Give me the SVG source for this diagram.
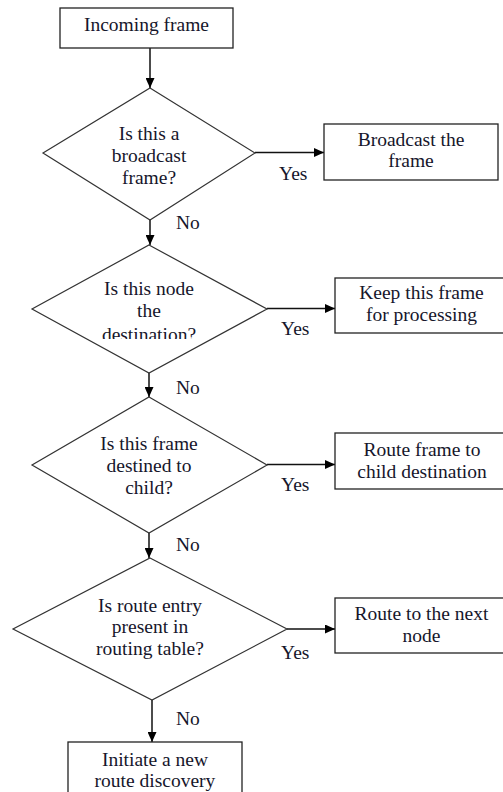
<svg xmlns="http://www.w3.org/2000/svg" width="503" height="792" viewBox="0 0 503 792">
<style>
.box{fill:#fff;stroke:#222;stroke-width:1.3}
.dia{fill:#fff;stroke:#333;stroke-width:1.2}
.t{font-family:'Liberation Serif','DejaVu Serif','Noto Serif',serif;font-size:19.5px;fill:#16162b;text-anchor:middle}
.l{font-family:'Liberation Serif','DejaVu Serif','Noto Serif',serif;font-size:19.5px;fill:#16162b}
.c{fill:none;stroke:#111;stroke-width:1.5}
</style>
<defs>
<marker id="ah" markerUnits="userSpaceOnUse" markerWidth="10" markerHeight="9" viewBox="0 0 10 9" refX="10" refY="4.5" orient="auto">
<path d="M0,0 L10,4.5 L0,9 Z" fill="#000"/>
</marker>
<clipPath id="clipDest"><rect x="0" y="0" width="503" height="339"/></clipPath>
</defs>
<rect width="503" height="792" fill="#fff"/>
<g id="connectors">
<line class="c" x1="150" y1="48" x2="150" y2="88" marker-end="url(#ah)"/>
<line class="c" x1="150" y1="220" x2="150" y2="245" marker-end="url(#ah)"/>
<line class="c" x1="149" y1="373" x2="149" y2="397" marker-end="url(#ah)"/>
<line class="c" x1="149" y1="533" x2="149" y2="558" marker-end="url(#ah)"/>
<line class="c" x1="152" y1="700" x2="152" y2="742" marker-end="url(#ah)"/>
<line class="c" x1="255" y1="152.5" x2="324" y2="152.5" marker-end="url(#ah)"/>
<line class="c" x1="267" y1="308.5" x2="335" y2="308.5" marker-end="url(#ah)"/>
<line class="c" x1="267" y1="464.5" x2="335" y2="464.5" marker-end="url(#ah)"/>
<line class="c" x1="287" y1="629" x2="335" y2="629" marker-end="url(#ah)"/>
<text class="l" x="176" y="229">No</text>
<text class="l" x="176" y="394">No</text>
<text class="l" x="176" y="551">No</text>
<text class="l" x="176" y="725">No</text>
<text class="l" x="279" y="180">Yes</text>
<text class="l" x="281" y="335">Yes</text>
<text class="l" x="281" y="491">Yes</text>
<text class="l" x="281" y="659">Yes</text>
</g>
<g id="incoming">
<rect class="box" x="60" y="8" width="173" height="40"/>
<text class="t" x="146.5" y="30.5">Incoming frame</text>
</g>
<g id="q-broadcast">
<polygon class="dia" points="150,88 255,153 150,220 43,153"/>
<text class="t" x="149" y="140">Is this a</text>
<text class="t" x="149" y="162">broadcast</text>
<text class="t" x="149" y="184">frame?</text>
</g>
<g id="broadcast">
<rect class="box" x="324" y="124" width="174" height="56"/>
<text class="t" x="411" y="146">Broadcast the</text>
<text class="t" x="411" y="167">frame</text>
</g>
<g id="q-dest">
<polygon class="dia" points="149,245 267,309 149,373 32,309"/>
<text class="t" x="149" y="295">Is this node</text>
<text class="t" x="149" y="317">the</text>
<text class="t" x="149" y="341" clip-path="url(#clipDest)">destination?</text>
</g>
<g id="keep">
<rect class="box" x="335" y="278" width="175" height="55"/>
<text class="t" x="421.5" y="299">Keep this frame</text>
<text class="t" x="421.5" y="321">for processing</text>
</g>
<g id="q-child">
<polygon class="dia" points="149,397 267,465 149,533 32,465"/>
<text class="t" x="149" y="450">Is this frame</text>
<text class="t" x="149" y="472">destined to</text>
<text class="t" x="149" y="494">child?</text>
</g>
<g id="route-child">
<rect class="box" x="335" y="433" width="175" height="56"/>
<text class="t" x="422" y="456">Route frame to</text>
<text class="t" x="422" y="478">child destination</text>
</g>
<g id="q-route">
<polygon class="dia" points="150,558 287,629 152,700 13,629"/>
<text class="t" x="150" y="612">Is route entry</text>
<text class="t" x="150" y="633">present in</text>
<text class="t" x="150" y="655">routing table?</text>
</g>
<g id="route-next">
<rect class="box" x="335" y="598" width="175" height="55"/>
<text class="t" x="421.5" y="620">Route to the next</text>
<text class="t" x="421.5" y="642">node</text>
</g>
<g id="discovery">
<rect class="box" x="68" y="742" width="174" height="60"/>
<text class="t" x="155" y="766">Initiate a new</text>
<text class="t" x="155" y="787">route discovery</text>
</g>
</svg>
